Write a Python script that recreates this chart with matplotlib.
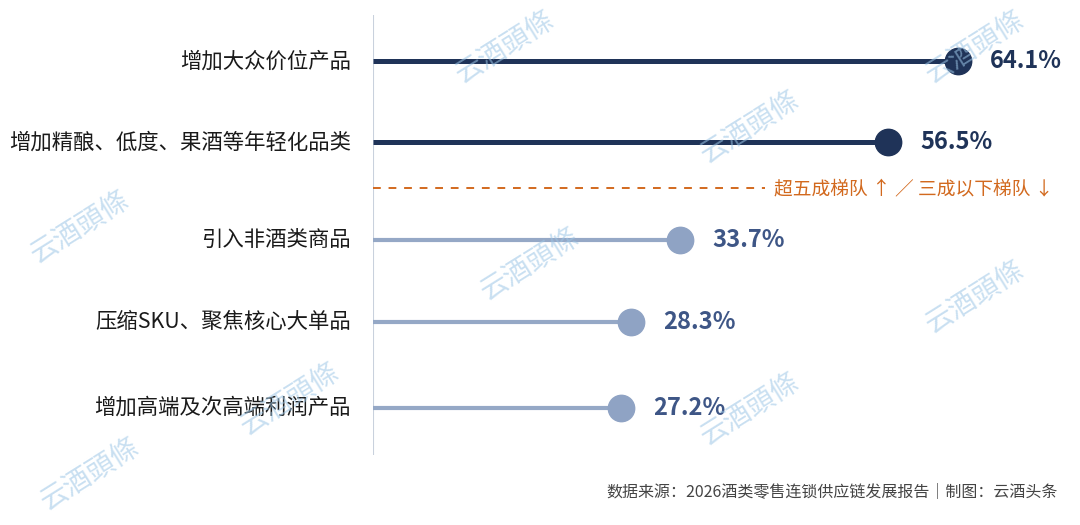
import matplotlib.pyplot as plt

plt.rcParams['font.family'] = ['Noto Sans CJK SC', 'DejaVu Sans']

# Data
labels = ['增加大众价位产品', '增加精酿、低度、果酒等年轻化品类', '引入非酒类商品',
          '压缩SKU、聚焦核心大单品', '增加高端及次高端利润产品']
values = [64.1, 56.5, 33.7, 28.3, 27.2]
tiers = ['top', 'top', 'low', 'low', 'low']
rows = [0, 1, 2.21, 3.22, 4.28]

dark = '#1f3358'
light_dot = '#8fa3c4'
light_line = '#95a8c6'
light_text = '#3e5686'
orange = '#d2691e'

fig = plt.figure(figsize=(10.8, 5.25), dpi=100)
ax = fig.add_axes([373 / 1080, 1 - 455 / 525, 1 - 373 / 1080, 440 / 525])
ax.set_xlim(0, 77.5)
ax.set_ylim(4.86, -0.57)
ax.axis('off')

# axis line
ax.axvline(0, color='#c9d1dd', lw=1.5, zorder=1)

for lab, v, t, y in zip(labels, values, tiers, rows):
    if t == 'top':
        lc, mc, tc, lw = dark, dark, dark, 3.6
    else:
        lc, mc, tc, lw = light_line, light_dot, light_text, 3.0
    ax.plot([0, v], [y, y], color=lc, lw=lw, solid_capstyle='butt', zorder=2)
    ax.plot(v, y, 'o', ms=19, color=mc, zorder=3)
    ax.annotate(f'{v}%', (v, y), xytext=(23, 0), textcoords='offset points',
                ha='left', va='center', fontsize=17, fontweight='bold', color=tc)
    ax.annotate(lab, (0, y), xytext=(-16, 0), textcoords='offset points',
                ha='right', va='center', fontsize=15.4, color='#1a1a1a',
                annotation_clip=False)

# tier divider
ax.plot([0, 43.0], [1.57, 1.57], ls=(0, (4, 4)), color=orange, lw=1.4)
ax.text(44.0, 1.57, '超五成梯队 ↑ ／ 三成以下梯队 ↓', ha='left', va='center',
        fontsize=13.5, color=orange, family=['Noto Sans CJK SC', 'DejaVu Sans'])

# footer
fig.text(1058 / 1080, 1 - 492 / 525, '数据来源：2026酒类零售连锁供应链发展报告｜制图：云酒头条',
         ha='right', va='center', fontsize=11.5, color='#444444')

# watermarks
marks = [(975, 48), (505, 48), (750, 128), (80, 228), (530, 265), (975, 298),
         (290, 400), (750, 410), (90, 475)]
for mx, my in marks:
    fig.text(mx / 1080, 1 - my / 525, '云酒頭條', ha='center', va='center',
             fontsize=20, color='#9cc6e6', alpha=0.55, rotation=32,
             family=['Noto Sans CJK TC', 'DejaVu Sans'], zorder=0)

fig.savefig('out.png', dpi=100, facecolor='white')
